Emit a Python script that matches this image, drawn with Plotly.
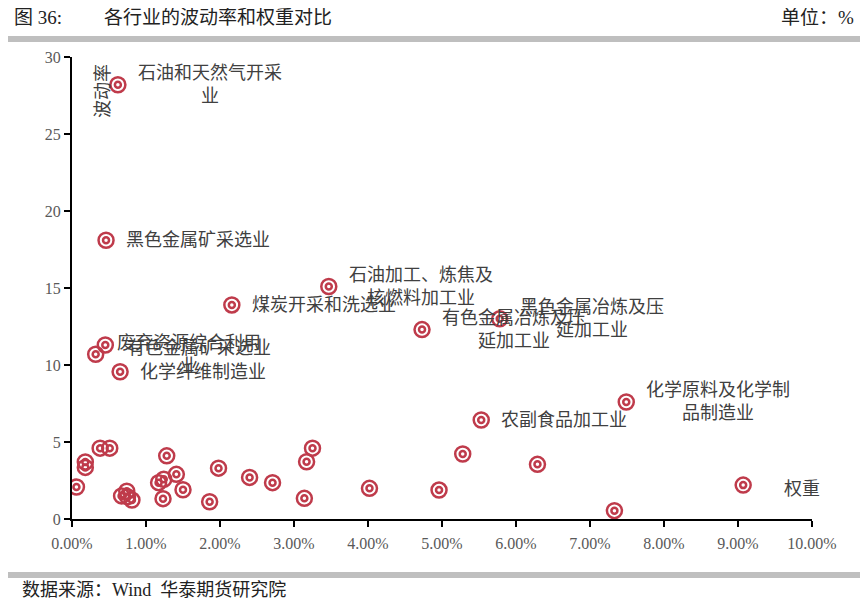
import plotly.graph_objects as go

# 权重 (%) / 波动率 (%) for each industry; labelled points first
names = [
    "石油和天然气开采业", "黑色金属矿采选业", "石油加工、炼焦及核燃料加工业",
    "煤炭开采和洗选业", "黑色金属冶炼及压延加工业", "有色金属冶炼及压延加工业",
    "废弃资源综合利用业", "有色金属矿采选业", "化学纤维制造业",
    "农副食品加工业", "化学原料及化学制品制造业",
]
weight_named = [0.62, 0.46, 3.47, 2.16, 5.78, 4.73, 0.45, 0.32, 0.65, 5.53, 7.49]
vol_named = [28.2, 18.1, 15.1, 13.9, 13.0, 12.3, 11.3, 10.7, 9.56, 6.43, 7.6]

weight_other = [0.06, 0.18, 0.18, 0.38, 0.51, 0.67, 0.74, 0.75, 0.81, 1.17, 1.24,
                1.28, 1.41, 1.23, 1.50, 1.86, 1.98, 2.40, 2.71, 3.14, 3.17, 3.25,
                4.02, 4.96, 5.28, 6.29, 7.33, 9.07]
vol_other = [2.08, 3.7, 3.35, 4.6, 4.6, 1.5, 1.8, 1.45, 1.23, 2.36, 2.58,
             4.1, 2.9, 1.32, 1.9, 1.12, 3.3, 2.7, 2.36, 1.34, 3.72, 4.6,
             1.99, 1.88, 4.22, 3.55, 0.54, 2.2]

x_ticks = [0, 1, 2, 3, 4, 5, 6, 7, 8, 9, 10]
x_tick_text = ["%.2f%%" % v for v in x_ticks]
y_ticks = [0, 5, 10, 15, 20, 25, 30]

RED = "#BF3B4B"
TXT = "#404040"
FONT = "Liberation Serif, Noto Sans CJK SC"

# the page body has an 8px margin, so the figure is drawn 8px smaller
OFF = 8
W, H = 868 - OFF, 600 - OFF
L, R, T, B = 72 - OFF, 56, 57 - OFF, 81

# labels that were hand-placed in the original (pixel nudges)
LABEL_NUDGE = {
    "废弃资源综合利用业": (10, -10),
    "有色金属矿采选业": (29, 6),
}


def py(p):
    # page pixel row -> paper y
    return (H - B - (p - OFF)) / (H - T - B)


def px(p):
    return (p - OFF - L) / (W - L - R)


def wrap(s, n=8):
    return "<br>".join(s[i:i + n] for i in range(0, len(s), n))


xs = weight_named + weight_other
ys = vol_named + vol_other

fig = go.Figure()
fig.add_trace(go.Scatter(
    x=xs, y=ys, mode="markers", hoverinfo="skip",
    marker=dict(symbol="circle-open", size=15, color=RED, line=dict(width=2.5)),
))
fig.add_trace(go.Scatter(
    x=xs, y=ys, mode="markers", hoverinfo="skip",
    marker=dict(symbol="circle-open", size=6, color=RED, line=dict(width=2.5)),
))

annotations = []
for name, x, y in zip(names, weight_named, vol_named):
    dx, dy = LABEL_NUDGE.get(name, (18, 0))
    annotations.append(dict(
        x=x, y=y, text=wrap(name), showarrow=False, xanchor="left",
        yanchor="middle", align="center", xshift=dx, yshift=dy,
        font=dict(size=18, color=TXT, family=FONT),
    ))

annotations += [
    dict(x=0.42, y=27.8, text="波动率", textangle=-90, showarrow=False,
         font=dict(size=18, color=TXT, family=FONT)),
    dict(x=9.86, y=1.95, text="权重", showarrow=False,
         font=dict(size=18, color=TXT, family=FONT)),
    dict(x=px(12), y=py(18), xref="paper", yref="paper", xanchor="left",
         yanchor="middle", showarrow=False, text="图 36:",
         font=dict(size=19, color="#222", family=FONT)),
    dict(x=px(102), y=py(18), xref="paper", yref="paper", xanchor="left",
         yanchor="middle", showarrow=False, text="各行业的波动率和权重对比",
         font=dict(size=19, color="#222", family=FONT)),
    dict(x=px(856), y=py(18), xref="paper", yref="paper", xanchor="right",
         yanchor="middle", showarrow=False, text="单位：%",
         font=dict(size=19, color="#222", family=FONT)),
    dict(x=px(20), y=py(590), xref="paper", yref="paper", xanchor="left",
         yanchor="middle", showarrow=False, text="数据来源：Wind  华泰期货研究院",
         font=dict(size=18, color="#222", family=FONT)),
]

shapes = [
    dict(type="rect", xref="paper", yref="paper", x0=px(8), x1=px(868),
         y0=py(42), y1=py(36), fillcolor="#BFBFBF", line=dict(width=0)),
    dict(type="rect", xref="paper", yref="paper", x0=px(8), x1=px(868),
         y0=py(578), y1=py(572), fillcolor="#BFBFBF", line=dict(width=0)),
]

fig.update_layout(
    width=W, height=H,
    margin=dict(l=L, r=R, t=T, b=B),
    paper_bgcolor="white", plot_bgcolor="white",
    showlegend=False,
    font=dict(family=FONT, size=16, color="#595959"),
    annotations=annotations, shapes=shapes,
    xaxis=dict(
        range=[0, 10], tickvals=x_ticks, ticktext=x_tick_text,
        showgrid=False, zeroline=False, showline=True, linecolor="black",
        linewidth=2, ticks="outside", ticklen=6, tickwidth=2,
        tickcolor="black", tickfont=dict(size=16, color="#595959"),
        ticklabelstandoff=3,
    ),
    yaxis=dict(
        range=[0, 30], tickvals=y_ticks, showgrid=False, zeroline=False,
        showline=True, linecolor="black", linewidth=2, ticks="outside",
        ticklen=6, tickwidth=2, tickcolor="black",
        tickfont=dict(size=16, color="#595959"),
    ),
)

fig.write_html("out.html")
